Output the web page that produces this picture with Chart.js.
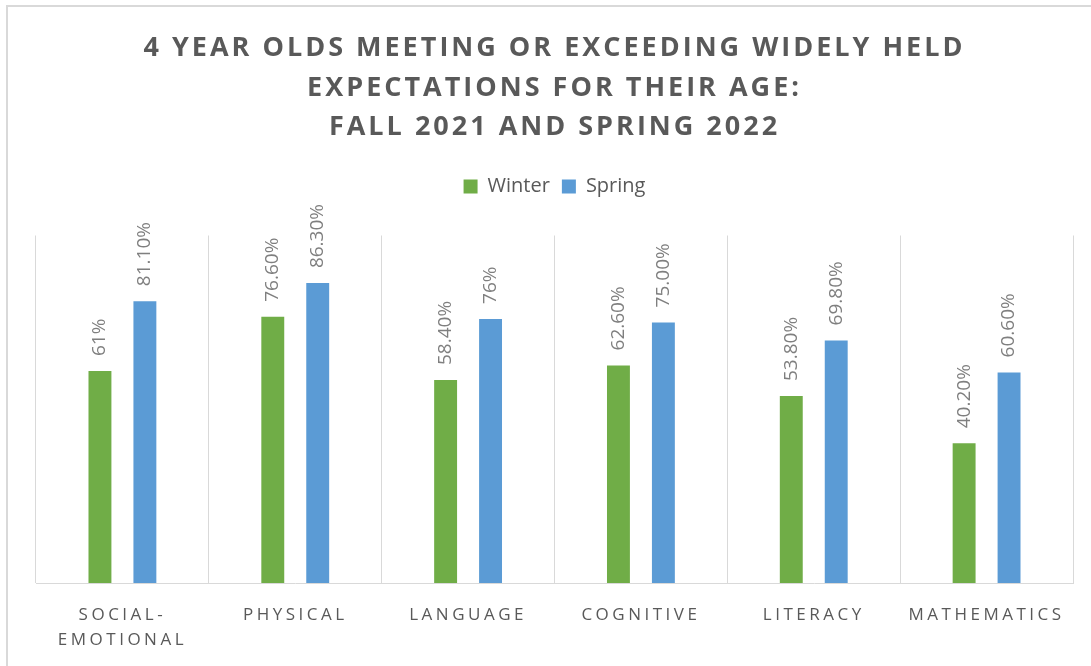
<!DOCTYPE html>
<html>
<head>
<meta charset="utf-8">
<script src="https://cdn.jsdelivr.net/npm/chart.js@4"></script>
<style>
  html, body { margin: 0; padding: 0; background: #fff; }
  #frame { position: absolute; left: 6px; top: 5px; width: 1100px; height: 700px;
           border-left: 2px solid #d9d9d9; border-top: 2px solid #d9d9d9; }
  #wrap { position: absolute; left: 0; top: 0; width: 1091px; height: 666px; }
</style>
</head>
<body>
<div id="frame"></div>
<div id="wrap"><canvas id="skillsChart"></canvas></div>
<script>
const categories = [['SOCIAL-', 'EMOTIONAL'], 'PHYSICAL', 'LANGUAGE', 'COGNITIVE', 'LITERACY', 'MATHEMATICS'];
const winterValues = [61, 76.6, 58.4, 62.6, 53.8, 40.2];
const springValues = [81.1, 86.3, 76, 75, 69.8, 60.6];
const winterLabels = ['61%', '76.60%', '58.40%', '62.60%', '53.80%', '40.20%'];
const springLabels = ['81.10%', '86.30%', '76%', '75.00%', '69.80%', '60.60%'];

// wrap a draw method so its text gets letter spacing
function spaced(obj, name, sp) {
    if (!obj || obj['_sp_' + name]) return;
    const orig = obj[name];
    obj['_sp_' + name] = true;
    obj[name] = function(...args) {
        const ctx = this.ctx;
        ctx.save();
        ctx.letterSpacing = sp;
        orig.apply(this, args);
        ctx.restore();
    };
}

const tweaks = {
    id: 'tweaks',
    beforeUpdate(chart) {
        const legend = chart.legend;
        if (legend && !legend._grown) {
            const fit = legend.fit;
            legend.fit = function() { fit.call(this); this.height += 29; };
            legend._grown = true;
        }
    },
    afterLayout(chart) {
        spaced(chart.titleBlock, 'draw', '3px');
        spaced(chart.scales.x, 'drawLabels', '3.5px');
    },
    afterDatasetsDraw(chart) {
        const ctx = chart.ctx;
        const texts = [winterLabels, springLabels];
        ctx.save();
        ctx.font = '19px "Open Sans"';
        ctx.fillStyle = '#7f7f7f';
        ctx.textAlign = 'left';
        ctx.textBaseline = 'middle';
        chart.data.datasets.forEach((ds, i) => {
            chart.getDatasetMeta(i).data.forEach((bar, j) => {
                ctx.save();
                ctx.translate(bar.x, bar.y - 15);
                ctx.rotate(-Math.PI / 2);
                ctx.fillText(texts[i][j], 0, 0);
                ctx.restore();
            });
        });
        ctx.restore();
    }
};

document.addEventListener('DOMContentLoaded', function() {
    const ctx = document.getElementById('skillsChart').getContext('2d');
    new Chart(ctx, {
        type: 'bar',
        data: {
            labels: categories,
            datasets: [{
                label: 'Winter',
                data: winterValues,
                backgroundColor: '#70ad47',
                categoryPercentage: 0.52,
                barPercentage: 0.51
            }, {
                label: 'Spring',
                data: springValues,
                backgroundColor: '#5b9bd5',
                categoryPercentage: 0.52,
                barPercentage: 0.51
            }]
        },
        options: {
            responsive: true,
            maintainAspectRatio: false,
            animation: false,
            layout: {
                padding: { top: 5, left: 36, right: 18, bottom: 13 }
            },
            scales: {
                x: {
                    grid: { color: '#d9d9d9', lineWidth: 1, drawTicks: false },
                    border: { color: '#d9d9d9', width: 1 },
                    ticks: {
                        color: '#595959',
                        padding: 20,
                        font: { family: '"Open Sans"', size: 17, lineHeight: 1.47 }
                    },
                    afterFit: function(scale) { scale.height = 70; }
                },
                y: {
                    display: false,
                    min: 0,
                    max: 100
                }
            },
            plugins: {
                title: {
                    display: true,
                    text: ['4 YEAR OLDS MEETING OR EXCEEDING WIDELY HELD',
                           'EXPECTATIONS FOR THEIR AGE:',
                           'FALL 2021 AND SPRING 2022'],
                    color: '#595959',
                    font: { family: '"Open Sans"', size: 27, weight: 'bold', lineHeight: 1.463 },
                    padding: { top: 24, bottom: 17 }
                },
                legend: {
                    labels: {
                        color: '#595959',
                        boxWidth: 14,
                        boxHeight: 14,
                        padding: 12,
                        font: { family: '"Open Sans"', size: 20 }
                    }
                },
                tooltip: { enabled: false }
            }
        },
        plugins: [tweaks]
    });
});
</script>
</body>
</html>
